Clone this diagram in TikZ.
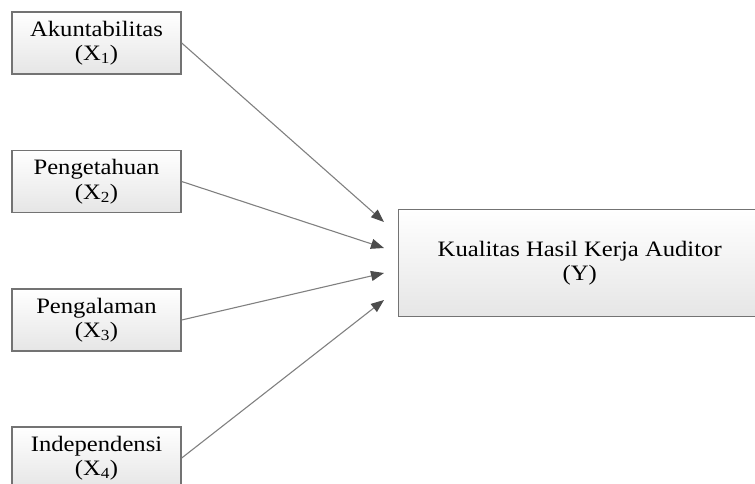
\documentclass[tikz,border=0pt]{standalone}
\usepackage{fontspec}
\setmainfont[FakeStretch=1.12]{Liberation Serif}
\usetikzlibrary{arrows.meta}
\begin{document}
\begin{tikzpicture}[x=1pt,y=-1pt,
  varbox/.style={draw=black!55, line width=1.4pt, top color=white, bottom color=black!10,
    minimum width=169pt, minimum height=62pt, inner sep=0pt, align=center,
    font=\fontsize{22}{24.5}\selectfont},
  link/.style={draw=black!50, line width=1.1pt,
    -{Triangle[length=13pt,width=10pt,color=black!70,fill=black!70]}}]
\useasboundingbox (0,0) rectangle (755,484);
\node[varbox] (x1) at (96.5,43) {Akuntabilitas\\(X\textsubscript{1})};
\node[varbox] (x2) at (96.5,181.5) {Pengetahuan\\(X\textsubscript{2})};
\node[varbox] (x3) at (96.5,320) {Pengalaman\\(X\textsubscript{3})};
\node[varbox] (x4) at (96.5,458) {Independensi\\(X\textsubscript{4})};
\node[varbox, minimum width=362pt, minimum height=107pt, anchor=north west] (y) at (398,209) {Kualitas Hasil Kerja Auditor\\(Y)};
\coordinate (e1) at (384,222);
\coordinate (e2) at (384,248);
\coordinate (e3) at (384,273);
\coordinate (e4) at (384,300);
\draw[link] (x1.east) -- (e1);
\draw[link] (x2.east) -- (e2);
\draw[link] (x3.east) -- (e3);
\draw[link] (x4.east) -- (e4);
\end{tikzpicture}
\end{document}
